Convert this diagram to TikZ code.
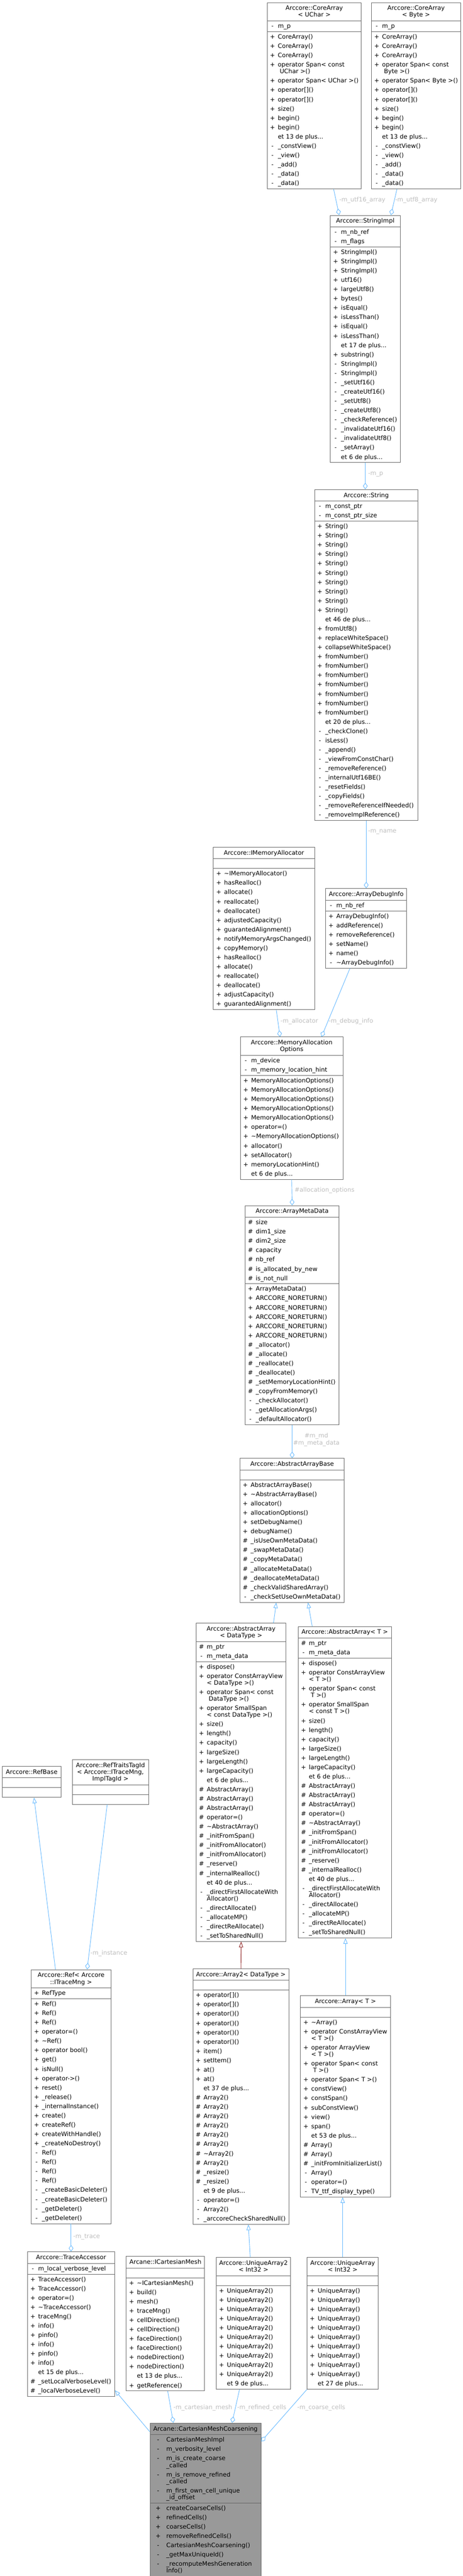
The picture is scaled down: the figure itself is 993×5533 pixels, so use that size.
\documentclass[tikz,border=0pt]{standalone}
\usepackage{fontspec}
\setmainfont{DejaVu Sans}
\usetikzlibrary{shapes.multipart,arrows.meta}
\definecolor{boxline}{HTML}{666666}
\definecolor{mainfill}{HTML}{999999}
\definecolor{edgeblue}{HTML}{63B8FF}
\definecolor{edgered}{HTML}{8B1A1A}
\definecolor{labelgrey}{HTML}{BEBEBE}
\newlength\symw
\setlength\symw{11pt}
\newcommand{\mpub}[1]{\makebox[\symw]{+}&#1\\}
\newcommand{\mpriv}[1]{\makebox[\symw]{-}&#1\\}
\newcommand{\mprot}[1]{\makebox[\symw]{\#}&#1\\}
\newcommand{\mmore}[1]{&et #1 de plus...\\}
\newcommand{\mtwo}[3]{\makebox[\symw]{#1}&#2\\[-5.5pt]&#3\\}
\newcommand{\memb}[1]{\begin{tabular}{@{}l@{\hspace{6pt}}l@{}}#1\end{tabular}}
\newcommand{\ttl}[1]{\raisebox{0pt}[\dimexpr\height+1pt][\dimexpr\depth+1pt]{\begin{tabular}{@{}c@{}}#1\end{tabular}}}
\newcommand{\blank}{\rule{0pt}{18pt}}
\begin{document}
\begin{tikzpicture}[x=1pt,y=-1pt,
    umlbox/.style={rectangle split, rectangle split parts=3,
      rectangle split part align={center,left,left},
      draw=boxline, fill=white, line width=1pt, inner xsep=6pt, inner ysep=1pt,
      anchor=north, font=\fontsize{13}{20}\selectfont},
    mainbox/.style={umlbox, fill=mainfill},
    usage/.style={draw=edgeblue, line width=1pt, -{Diamond[open,length=14pt,width=10pt]}},
    isa/.style={draw=edgeblue, line width=1pt, -{Triangle[open,length=12pt,width=9pt]}},
    isaprot/.style={isa, draw=edgered},
    lbl/.style={text=labelgrey, anchor=west, inner sep=0pt, font=\fontsize{13}{15}\selectfont}]
\fill[white] (0,0) rectangle (993,5533);
\useasboundingbox (0,0) rectangle (993,5533);

\node[umlbox, minimum width=201pt] (coreuchar) at (674.5,5) {\ttl{Arccore::CoreArray\\[-5.5pt]< UChar >}
  \nodepart{two}\memb{\mpriv{m\_p}}
  \nodepart{three}\memb{\mpub{CoreArray()}\mpub{CoreArray()}\mpub{CoreArray()}\mtwo{+}{operator Span< const}{\hspace{4pt}UChar >()}\mpub{operator Span< UChar >()}\mpub{operator[]()}\mpub{operator[]()}\mpub{size()}\mpub{begin()}\mpub{begin()}\mmore{13}\mpriv{\_constView()}\mpriv{\_view()}\mpriv{\_add()}\mpriv{\_data()}\mpriv{\_data()}}};
\node[umlbox, minimum width=190pt] (corebyte) at (893,5) {\ttl{Arccore::CoreArray\\[-5.5pt]< Byte >}
  \nodepart{two}\memb{\mpriv{m\_p}}
  \nodepart{three}\memb{\mpub{CoreArray()}\mpub{CoreArray()}\mpub{CoreArray()}\mtwo{+}{operator Span< const}{\hspace{4pt}Byte >()}\mpub{operator Span< Byte >()}\mpub{operator[]()}\mpub{operator[]()}\mpub{size()}\mpub{begin()}\mpub{begin()}\mmore{13}\mpriv{\_constView()}\mpriv{\_view()}\mpriv{\_add()}\mpriv{\_data()}\mpriv{\_data()}}};
\node[umlbox, minimum width=150pt] (strimpl) at (784,462) {\ttl{Arccore::StringImpl}
  \nodepart{two}\memb{\mpriv{m\_nb\_ref}\mpriv{m\_flags}}
  \nodepart{three}\memb{\mpub{StringImpl()}\mpub{StringImpl()}\mpub{StringImpl()}\mpub{utf16()}\mpub{largeUtf8()}\mpub{bytes()}\mpub{isEqual()}\mpub{isLessThan()}\mpub{isEqual()}\mpub{isLessThan()}\mmore{17}\mpub{substring()}\mpriv{StringImpl()}\mpriv{StringImpl()}\mpriv{\_setUtf16()}\mpriv{\_createUtf16()}\mpriv{\_setUtf8()}\mpriv{\_createUtf8()}\mpriv{\_checkReference()}\mpriv{\_invalidateUtf16()}\mpriv{\_invalidateUtf8()}\mpriv{\_setArray()}\mmore{6}}};
\node[umlbox, minimum width=222pt] (string) at (786,1051) {\ttl{Arccore::String}
  \nodepart{two}\memb{\mpriv{m\_const\_ptr}\mpriv{m\_const\_ptr\_size}}
  \nodepart{three}\memb{\mpub{String()}\mpub{String()}\mpub{String()}\mpub{String()}\mpub{String()}\mpub{String()}\mpub{String()}\mpub{String()}\mpub{String()}\mpub{String()}\mmore{46}\mpub{fromUtf8()}\mpub{replaceWhiteSpace()}\mpub{collapseWhiteSpace()}\mpub{fromNumber()}\mpub{fromNumber()}\mpub{fromNumber()}\mpub{fromNumber()}\mpub{fromNumber()}\mpub{fromNumber()}\mpub{fromNumber()}\mmore{20}\mpriv{\_checkClone()}\mpriv{isLess()}\mpriv{\_append()}\mpriv{\_viewFromConstChar()}\mpriv{\_removeReference()}\mpriv{\_internalUtf16BE()}\mpriv{\_resetFields()}\mpriv{\_copyFields()}\mpriv{\_removeReferenceIfNeeded()}\mpriv{\_removeImplReference()}}};
\node[umlbox, minimum width=217pt] (imem) at (566.5,1819) {\ttl{Arccore::IMemoryAllocator}
  \nodepart{two}\blank
  \nodepart{three}\memb{\mpub{\textasciitilde IMemoryAllocator()}\mpub{hasRealloc()}\mpub{allocate()}\mpub{reallocate()}\mpub{deallocate()}\mpub{adjustedCapacity()}\mpub{guarantedAlignment()}\mpub{notifyMemoryArgsChanged()}\mpub{copyMemory()}\mpub{hasRealloc()}\mpub{allocate()}\mpub{reallocate()}\mpub{deallocate()}\mpub{adjustCapacity()}\mpub{guarantedAlignment()}}};
\node[umlbox, minimum width=174pt] (dbginfo) at (786,1908) {\ttl{Arccore::ArrayDebugInfo}
  \nodepart{two}\memb{\mpriv{m\_nb\_ref}}
  \nodepart{three}\memb{\mpub{ArrayDebugInfo()}\mpub{addReference()}\mpub{removeReference()}\mpub{setName()}\mpub{name()}\mpriv{\textasciitilde ArrayDebugInfo()}}};
\node[umlbox, minimum width=220pt] (allocopts) at (626,2227) {\ttl{Arccore::MemoryAllocation\\[-5.5pt]Options}
  \nodepart{two}\memb{\mpriv{m\_device}\mpriv{m\_memory\_location\_hint}}
  \nodepart{three}\memb{\mpub{MemoryAllocationOptions()}\mpub{MemoryAllocationOptions()}\mpub{MemoryAllocationOptions()}\mpub{MemoryAllocationOptions()}\mpub{MemoryAllocationOptions()}\mpub{operator=()}\mpub{\textasciitilde MemoryAllocationOptions()}\mpub{allocator()}\mpub{setAllocator()}\mpub{memoryLocationHint()}\mmore{6}}};
\node[umlbox, minimum width=202pt] (metadata) at (627,2589) {\ttl{Arccore::ArrayMetaData}
  \nodepart{two}\memb{\mprot{size}\mprot{dim1\_size}\mprot{dim2\_size}\mprot{capacity}\mprot{nb\_ref}\mprot{is\_allocated\_by\_new}\mprot{is\_not\_null}}
  \nodepart{three}\memb{\mpub{ArrayMetaData()}\mpub{ARCCORE\_NORETURN()}\mpub{ARCCORE\_NORETURN()}\mpub{ARCCORE\_NORETURN()}\mpub{ARCCORE\_NORETURN()}\mpub{ARCCORE\_NORETURN()}\mprot{\_allocator()}\mprot{\_allocate()}\mprot{\_reallocate()}\mprot{\_deallocate()}\mprot{\_setMemoryLocationHint()}\mprot{\_copyFromMemory()}\mpriv{\_checkAllocator()}\mpriv{\_getAllocationArgs()}\mpriv{\_defaultAllocator()}}};
\node[umlbox, minimum width=224pt] (absbase) at (627,3132) {\ttl{Arccore::AbstractArrayBase}
  \nodepart{two}\blank
  \nodepart{three}\memb{\mpub{AbstractArrayBase()}\mpub{\textasciitilde AbstractArrayBase()}\mpub{allocator()}\mpub{allocationOptions()}\mpub{setDebugName()}\mpub{debugName()}\mprot{\_isUseOwnMetaData()}\mprot{\_swapMetaData()}\mprot{\_copyMetaData()}\mprot{\_allocateMetaData()}\mprot{\_deallocateMetaData()}\mprot{\_checkValidSharedArray()}\mpriv{\_checkSetUseOwnMetaData()}}};
\node[umlbox, minimum width=193pt] (absarrdt) at (517.5,3486) {\ttl{Arccore::AbstractArray\\[-5.5pt]< DataType >}
  \nodepart{two}\memb{\mprot{m\_ptr}\mpriv{m\_meta\_data}}
  \nodepart{three}\memb{\mpub{dispose()}\mtwo{+}{operator ConstArrayView}{< DataType >()}\mtwo{+}{operator Span< const}{\hspace{4pt}DataType >()}\mtwo{+}{operator SmallSpan}{< const DataType >()}\mpub{size()}\mpub{length()}\mpub{capacity()}\mpub{largeSize()}\mpub{largeLength()}\mpub{largeCapacity()}\mmore{6}\mprot{AbstractArray()}\mprot{AbstractArray()}\mprot{AbstractArray()}\mprot{operator=()}\mprot{\textasciitilde AbstractArray()}\mprot{\_initFromSpan()}\mprot{\_initFromAllocator()}\mprot{\_initFromAllocator()}\mprot{\_reserve()}\mprot{\_internalRealloc()}\mmore{40}\mtwo{-}{\_directFirstAllocateWith}{Allocator()}\mpriv{\_directAllocate()}\mpriv{\_allocateMP()}\mpriv{\_directReAllocate()}\mpriv{\_setToSharedNull()}}};
\node[umlbox, minimum width=200pt] (absarrt) at (740,3493) {\ttl{Arccore::AbstractArray< T >}
  \nodepart{two}\memb{\mprot{m\_ptr}\mpriv{m\_meta\_data}}
  \nodepart{three}\memb{\mpub{dispose()}\mtwo{+}{operator ConstArrayView}{< T >()}\mtwo{+}{operator Span< const}{\hspace{4pt}T >()}\mtwo{+}{operator SmallSpan}{< const T >()}\mpub{size()}\mpub{length()}\mpub{capacity()}\mpub{largeSize()}\mpub{largeLength()}\mpub{largeCapacity()}\mmore{6}\mprot{AbstractArray()}\mprot{AbstractArray()}\mprot{AbstractArray()}\mprot{operator=()}\mprot{\textasciitilde AbstractArray()}\mprot{\_initFromSpan()}\mprot{\_initFromAllocator()}\mprot{\_initFromAllocator()}\mprot{\_reserve()}\mprot{\_internalRealloc()}\mmore{40}\mtwo{-}{\_directFirstAllocateWith}{Allocator()}\mpriv{\_directAllocate()}\mpriv{\_allocateMP()}\mpriv{\_directReAllocate()}\mpriv{\_setToSharedNull()}}};
\node[umlbox, minimum width=126pt] (refbase) at (68,3793) {\ttl{Arccore::RefBase}
  \nodepart{two}\blank
  \nodepart{three}\blank};
\node[umlbox, minimum width=164pt] (reftraits) at (237,3779) {\ttl{Arccore::RefTraitsTagId\\[-5.5pt]< Arccore::ITraceMng,\\[-5.5pt]ImplTagId >}
  \nodepart{two}\blank
  \nodepart{three}\blank};
\node[umlbox, minimum width=171pt] (ref) at (152.5,4230) {\ttl{Arccore::Ref< Arccore\\[-5.5pt]::ITraceMng >}
  \nodepart{two}\memb{\mpub{RefType}}
  \nodepart{three}\memb{\mpub{Ref()}\mpub{Ref()}\mpub{Ref()}\mpub{operator=()}\mpub{\textasciitilde Ref()}\mpub{operator bool()}\mpub{get()}\mpub{isNull()}\mpub{operator->()}\mpub{reset()}\mpub{\_release()}\mpub{\_internalInstance()}\mpub{create()}\mpub{createRef()}\mpub{createWithHandle()}\mpub{\_createNoDestroy()}\mpriv{Ref()}\mpriv{Ref()}\mpriv{Ref()}\mpriv{Ref()}\mpriv{\_createBasicDeleter()}\mpriv{\_createBasicDeleter()}\mpriv{\_getDeleter()}\mpriv{\_getDeleter()}}};
\node[umlbox, minimum width=206pt] (arraytwo) at (517,4228) {\ttl{Arccore::Array2< DataType >}
  \nodepart{two}\blank
  \nodepart{three}\memb{\mpub{operator[]()}\mpub{operator[]()}\mpub{operator()()}\mpub{operator()()}\mpub{operator()()}\mpub{operator()()}\mpub{item()}\mpub{setItem()}\mpub{at()}\mpub{at()}\mmore{37}\mprot{Array2()}\mprot{Array2()}\mprot{Array2()}\mprot{Array2()}\mprot{Array2()}\mprot{Array2()}\mprot{\textasciitilde Array2()}\mprot{Array2()}\mprot{\_resize()}\mprot{\_resize()}\mmore{9}\mpriv{operator=()}\mpriv{Array2()}\mpriv{\_arccoreCheckSharedNull()}}};
\node[umlbox, minimum width=193pt] (arrayt) at (741.5,4286) {\ttl{Arccore::Array< T >}
  \nodepart{two}\blank
  \nodepart{three}\memb{\mpub{\textasciitilde Array()}\mtwo{+}{operator ConstArrayView}{< T >()}\mtwo{+}{operator ArrayView}{< T >()}\mtwo{+}{operator Span< const}{\hspace{4pt}T >()}\mpub{operator Span< T >()}\mpub{constView()}\mpub{constSpan()}\mpub{subConstView()}\mpub{view()}\mpub{span()}\mmore{53}\mprot{Array()}\mprot{Array()}\mprot{\_initFromInitializerList()}\mpriv{Array()}\mpriv{operator=()}\mpriv{TV\_ttf\_display\_type()}}};
\node[umlbox, minimum width=187pt] (trace) at (152.5,4836) {\ttl{Arccore::TraceAccessor}
  \nodepart{two}\memb{\mpriv{m\_local\_verbose\_level}}
  \nodepart{three}\memb{\mpub{TraceAccessor()}\mpub{TraceAccessor()}\mpub{operator=()}\mpub{\textasciitilde TraceAccessor()}\mpub{traceMng()}\mpub{info()}\mpub{pinfo()}\mpub{info()}\mpub{pinfo()}\mpub{info()}\mmore{15}\mprot{\_setLocalVerboseLevel()}\mprot{\_localVerboseLevel()}}};
\node[umlbox, minimum width=168pt] (icart) at (355,4846) {\ttl{Arcane::ICartesianMesh}
  \nodepart{two}\blank
  \nodepart{three}\memb{\mpub{\textasciitilde ICartesianMesh()}\mpub{build()}\mpub{mesh()}\mpub{traceMng()}\mpub{cellDirection()}\mpub{cellDirection()}\mpub{faceDirection()}\mpub{faceDirection()}\mpub{nodeDirection()}\mpub{nodeDirection()}\mmore{13}\mpub{getReference()}}};
\node[umlbox, minimum width=160pt] (uarrtwo) at (544,4848) {\ttl{Arccore::UniqueArray2\\[-5.5pt]< Int32 >}
  \nodepart{two}\blank
  \nodepart{three}\memb{\mpub{UniqueArray2()}\mpub{UniqueArray2()}\mpub{UniqueArray2()}\mpub{UniqueArray2()}\mpub{UniqueArray2()}\mpub{UniqueArray2()}\mpub{UniqueArray2()}\mpub{UniqueArray2()}\mpub{UniqueArray2()}\mpub{UniqueArray2()}\mmore{9}}};
\node[umlbox, minimum width=153pt] (uarr) at (735.5,4848) {\ttl{Arccore::UniqueArray\\[-5.5pt]< Int32 >}
  \nodepart{two}\blank
  \nodepart{three}\memb{\mpub{UniqueArray()}\mpub{UniqueArray()}\mpub{UniqueArray()}\mpub{UniqueArray()}\mpub{UniqueArray()}\mpub{UniqueArray()}\mpub{UniqueArray()}\mpub{UniqueArray()}\mpub{UniqueArray()}\mpub{UniqueArray()}\mmore{27}}};
\setlength\symw{23pt}
\node[mainbox, minimum width=238pt] (coarsen) at (441,5204) {\ttl{Arcane::CartesianMeshCoarsening}
  \nodepart{two}\memb{\mpriv{CartesianMeshImpl}\mpriv{m\_verbosity\_level}\mtwo{-}{m\_is\_create\_coarse}{\_called}\mtwo{-}{m\_is\_remove\_refined}{\_called}\mtwo{-}{m\_first\_own\_cell\_unique}{\_id\_offset}}
  \nodepart{three}\memb{\mpub{createCoarseCells()}\mpub{refinedCells()}\mpub{coarseCells()}\mpub{removeRefinedCells()}\mpriv{CartesianMeshCoarsening()}\mpriv{\_getMaxUniqueId()}\mtwo{-}{\_recomputeMeshGeneration}{Info()}}};

\path
  ([xshift=41.5pt]coreuchar.south) edge[usage] ([xshift=-56pt]strimpl.north)
  ([xshift=-41pt]corebyte.south) edge[usage] ([xshift=55pt]strimpl.north)
  (strimpl.south) edge[usage] (strimpl.south |- string.north)
  (string.south) edge[usage] (dbginfo.north)
  ([xshift=26.5pt]imem.south) edge[usage] ([xshift=-25pt]allocopts.north)
  ([xshift=-35pt]dbginfo.south) edge[usage] ([xshift=64pt]allocopts.north)
  (allocopts.south) edge[usage] (metadata.north)
  (metadata.south) edge[usage] (absbase.north)
  ([xshift=69.5pt]absarrdt.north) edge[isa] ([xshift=-34pt]absbase.south)
  ([xshift=-70pt]absarrt.north) edge[isa] ([xshift=34pt]absbase.south)
  (arraytwo.north) edge[isaprot] (absarrdt.south)
  (arrayt.north) edge[isa] (arrayt.north |- absarrt.south)
  ([xshift=-33.5pt]ref.north) edge[isa] ([xshift=5pt]refbase.south)
  ([xshift=-7pt]reftraits.south) edge[usage] ([xshift=34.5pt]ref.north)
  (ref.south) edge[usage] (trace.north)
  ([xshift=-7pt]uarrtwo.north) edge[isa] ([xshift=16pt]arraytwo.south)
  (uarr.north) edge[isa] (uarr.north |- arrayt.south)
  ([yshift=-19pt]coarsen.north west) edge[isa] ([yshift=14pt]trace.south east)
  ([xshift=5pt]icart.south) edge[usage] ([xshift=-69pt]coarsen.north)
  ([xshift=-30pt]uarrtwo.south) edge[usage] ([xshift=57pt]coarsen.north)
  (uarr.south west) edge[usage] ([yshift=-40pt]coarsen.north east);

\node[lbl] (lutfsixteen) at (728,430) {-m\_utf16\_array};
\node[lbl] (lutfeight) at (848,430) {-m\_utf8\_array};
\node[lbl] (lmp) at (790,1019) {-m\_p};
\node[lbl] (lname) at (790,1787) {-m\_name};
\node[lbl] (lalloc) at (602,2194) {-m\_allocator};
\node[lbl] (ldebug) at (705,2194) {-m\_debug\_info};
\node[lbl] (lallocopts) at (632,2557) {\#allocation\_options};
\node[lbl, anchor=center, align=center] (lmetadata) at (679,3092) {\#m\_md\\\#m\_meta\_data};
\node[lbl] (linstance) at (194,4196) {-m\_instance};
\node[lbl] (ltrace) at (157,4804) {-m\_trace};
\node[lbl] (lcart) at (372,5172) {-m\_cartesian\_mesh};
\node[lbl] (lrefined) at (509,5172) {-m\_refined\_cells};
\node[lbl] (lcoarse) at (638,5172) {-m\_coarse\_cells};
\end{tikzpicture}
\end{document}
